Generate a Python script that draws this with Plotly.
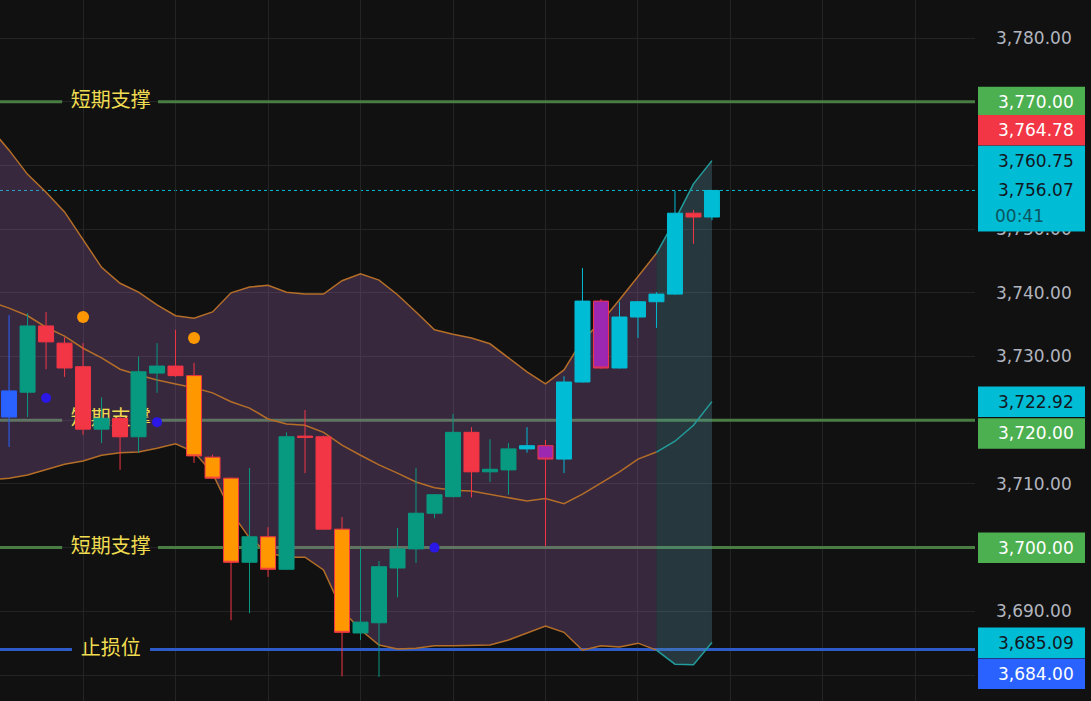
import plotly.graph_objects as go

# ---- candles (index 0 = leftmost bar on screen) ----
opens = [3720.5, 3724.4, 3734.8, 3732.1, 3728.4, 3718.6, 3720.3, 3717.4, 3727.4, 3728.5,
         3727.0, 3714.2, 3710.9, 3697.7, 3701.7, 3696.6, 3717.5, 3717.4, 3702.9, 3686.6,
         3688.2, 3696.8, 3699.8, 3705.4, 3708.0, 3718.1, 3711.9, 3712.2, 3715.5, 3716.0,
         3713.9, 3726.0, 3738.7, 3728.2, 3736.2, 3738.6, 3739.8, 3752.5, 3751.9]
highs = [3736.5, 3736.8, 3737.0, 3733.0, 3732.1, 3723.6, 3720.6, 3730.0, 3732.1, 3734.2,
         3729.0, 3714.6, 3711.0, 3712.5, 3703.2, 3718.1, 3721.6, 3717.6, 3704.8, 3700.0,
         3697.9, 3703.1, 3712.5, 3708.4, 3721.0, 3718.9, 3717.0, 3716.4, 3718.9, 3716.9,
         3726.9, 3743.9, 3739.0, 3738.6, 3738.7, 3740.1, 3756.0, 3753.0, 3756.1]
lows = [3715.8, 3720.5, 3728.0, 3726.8, 3717.7, 3716.4, 3712.2, 3714.9, 3724.3, 3726.8,
        3713.3, 3710.8, 3688.6, 3689.7, 3695.4, 3696.5, 3711.7, 3702.8, 3679.8, 3685.5,
        3679.7, 3692.2, 3697.6, 3704.6, 3707.9, 3707.9, 3710.3, 3708.3, 3714.9, 3700.2,
        3711.7, 3725.9, 3728.1, 3728.1, 3732.9, 3734.5, 3739.7, 3747.7, 3751.4]
closes = [3724.6, 3734.8, 3732.3, 3728.2, 3718.6, 3720.3, 3717.4, 3727.6, 3728.5, 3727.0,
          3714.4, 3710.9, 3697.7, 3701.7, 3696.6, 3717.4, 3717.3, 3702.9, 3686.7, 3688.3,
          3697.0, 3699.8, 3705.4, 3708.3, 3718.1, 3711.9, 3712.3, 3715.5, 3716.0, 3713.9,
          3726.0, 3738.7, 3728.2, 3736.2, 3738.6, 3739.8, 3752.5, 3751.9, 3756.07]
kinds = ["blue", "teal", "red", "red", "red", "teal", "red", "teal", "teal", "red",
         "orange", "orange", "orange", "teal", "orange", "teal", "red", "red", "orange", "teal",
         "teal", "teal", "teal", "teal", "teal", "red", "teal", "teal", "cyan", "purple",
         "cyan", "cyan", "purple", "cyan", "cyan", "cyan", "cyan", "red", "cyan"]

# ---- bollinger bands (starts one bar left of the screen) ----
band_x = list(range(-1, 39))
upper = [3765.8, 3762.4, 3758.6, 3755.8, 3752.7, 3748.3, 3744.0, 3741.5, 3740.1, 3738.1,
         3736.4, 3736.0, 3737.0, 3740.0, 3740.9, 3741.2, 3740.1, 3739.8, 3739.8, 3741.9,
         3743.0, 3742.0, 3739.7, 3737.0, 3734.2, 3733.5, 3732.9, 3732.0, 3729.8, 3727.6,
         3725.7, 3727.9, 3732.6, 3735.4, 3738.9, 3742.6, 3746.2, 3751.4, 3757.1, 3760.75]
middle = [3738.6, 3737.6, 3736.4, 3734.6, 3733.2, 3731.3, 3729.8, 3728.0, 3727.1, 3726.3,
          3725.7, 3725.1, 3724.3, 3722.9, 3721.9, 3720.2, 3719.4, 3719.2, 3718.1, 3716.1,
          3714.5, 3713.0, 3711.7, 3710.3, 3709.4, 3709.0, 3708.9, 3708.4, 3707.9, 3707.3,
          3707.7, 3706.9, 3708.4, 3710.1, 3711.9, 3713.9, 3715.0, 3716.7, 3719.2, 3722.92]
lower = [3710.6, 3710.9, 3711.4, 3712.2, 3713.1, 3713.6, 3714.5, 3714.9, 3715.0, 3715.6,
         3716.3, 3715.0, 3711.7, 3705.6, 3701.5, 3699.2, 3698.5, 3698.5, 3696.5, 3690.2,
         3687.1, 3684.7, 3684.1, 3684.2, 3684.6, 3684.6, 3684.6, 3684.7, 3685.5, 3686.6,
         3687.7, 3686.7, 3683.9, 3684.6, 3684.4, 3685.0, 3683.9, 3681.7, 3681.6, 3685.09]
teal_from = 36  # list position of bar 35, where the band turns teal

# ---- signal dots ----
orange_dot_x = [4, 10]
orange_dot_y = [3736.2, 3732.9]
blue_dot_x = [2, 8, 23]
blue_dot_y = [3723.5, 3719.7, 3700.0]

# ---- horizontal levels ----
support_levels = [3770, 3720, 3700]
support_label = "短期支撑"
stop_level = 3684
stop_label = "止损位"
last_price = 3756.07
countdown = "00:41"

# ---- price axis ----
axis_ticks = list(range(3680, 3790, 10))
hidden_ticks = [3680, 3700, 3720, 3760, 3770]  # sit under a price tag

# ---- price tags on the right axis ----
tag_values = [3770.00, 3764.78, 3760.75, 3756.07, 3722.92, 3720.00, 3700.00, 3685.09, 3684.00]
tag_colors = ["#4caf50", "#f23645", "#00bcd4", "#00bcd4", "#00bcd4", "#4caf50", "#4caf50", "#00bcd4", "#2962ff"]
tag_text = ["#ffffff", "#ffffff", "#131722", "#131722", "#131722", "#ffffff", "#ffffff", "#131722", "#ffffff"]
tag_shift = [0, 5, 0, 0, 0, -13, 0, 0, -24]

CANDLE_STYLE = {
    "teal": ("#089981", "#089981"),
    "red": ("#f23645", "#f23645"),
    "orange": ("#ff9800", "#f23645"),
    "purple": ("#9c27b0", "#f23645"),
    "cyan": ("#00bcd4", "#00bcd4"),
    "blue": ("#2962ff", "#2962ff"),
}
BG = "#111111"
GRID = "#242424"
BAND_ORANGE = "#b46e28"
BAND_TEAL = "#229c9c"
LABEL_X = 5.5
SUPPORT_GAP = (2.87, 8.05)   # where the line breaks for its label
STOP_GAP = (3.40, 7.62)
X_RANGE = [-0.49, 52.22]
Y_RANGE = [3675.92, 3785.97]

fig = go.Figure()

# level lines (under the band fill, over the grid)
def level_line(lvl, gap, color):
    fig.add_trace(go.Scatter(
        x=[X_RANGE[0], gap[0], None, gap[1], X_RANGE[1]],
        y=[lvl, lvl, None, lvl, lvl],
        mode="lines", line=dict(color=color, width=3), hoverinfo="skip"))

for lvl in support_levels:
    level_line(lvl, SUPPORT_GAP, "#4a7d44")
level_line(stop_level, STOP_GAP, "#2d5bc8")

# band fills
orange_part = slice(0, teal_from + 1)
teal_part = slice(teal_from, None)
for part, col, fcol in [(orange_part, BAND_ORANGE, "rgba(149,96,169,0.30)"),
                        (teal_part, BAND_TEAL, "rgba(90,150,165,0.30)")]:
    fig.add_trace(go.Scatter(x=band_x[part], y=upper[part], mode="lines",
                             line=dict(color=col, width=1.5), hoverinfo="skip"))
    fig.add_trace(go.Scatter(x=band_x[part], y=lower[part], mode="lines",
                             line=dict(color=col, width=1.5), fill="tonexty",
                             fillcolor=fcol, hoverinfo="skip"))
    fig.add_trace(go.Scatter(x=band_x[part], y=middle[part], mode="lines",
                             line=dict(color=col, width=1.5), hoverinfo="skip"))

# level labels
fig.add_trace(go.Scatter(
    x=[LABEL_X] * (len(support_levels) + 1),
    y=support_levels + [stop_level],
    text=[support_label] * len(support_levels) + [stop_label],
    mode="text",
    textfont=dict(family="Noto Sans CJK SC", size=20, color="#f0dc50"),
    hoverinfo="skip",
))

# candles on an overlaid subplot so they draw above the fills
for kind, (fill, edge) in CANDLE_STYLE.items():
    sel = [i for i, k in enumerate(kinds) if k == kind]
    style = dict(fillcolor=fill, line=dict(color=edge, width=1))
    fig.add_trace(go.Candlestick(
        x=sel,
        open=[opens[i] for i in sel], high=[highs[i] for i in sel],
        low=[lows[i] for i in sel], close=[closes[i] for i in sel],
        increasing=style, decreasing=style, whiskerwidth=0,
        xaxis="x2", yaxis="y2",
    ))

# signal dots
fig.add_trace(go.Scatter(x=orange_dot_x, y=orange_dot_y, mode="markers", xaxis="x2", yaxis="y2",
                         marker=dict(color="#ff9800", size=12), hoverinfo="skip"))
fig.add_trace(go.Scatter(x=blue_dot_x, y=blue_dot_y, mode="markers", xaxis="x2", yaxis="y2",
                         marker=dict(color="#2b17e6", size=10), hoverinfo="skip"))

# last price dotted line
shapes = [dict(type="line", xref="paper", yref="y", x0=0, x1=1, y0=last_price, y1=last_price,
               line=dict(color="#00bcd4", width=1, dash="dot"), layer="between")]

# price tags
annotations = []
tag_font = "DejaVu Sans"
for v, bg, fg, s in zip(tag_values, tag_colors, tag_text, tag_shift):
    shapes.append(dict(type="rect", xref="paper", xsizemode="pixel", xanchor=1, x0=3, x1=110,
                       yref="y", ysizemode="pixel", yanchor=v, y0=s - 15.5, y1=s + 15,
                       fillcolor=bg, line=dict(width=0), layer="above"))
    annotations.append(dict(xref="paper", x=1, xanchor="right", xshift=101, yref="y", y=v, yshift=s,
                            text=f"{v:,.2f}", showarrow=False,
                            font=dict(family=tag_font, size=17, color=fg)))
shapes.append(dict(type="rect", xref="paper", xsizemode="pixel", xanchor=1, x0=3, x1=110,
                   yref="y", ysizemode="pixel", yanchor=last_price, y0=-41, y1=-12,
                   fillcolor="#00bcd4", line=dict(width=0), layer="above"))
annotations.append(dict(xref="paper", x=1, xanchor="left", xshift=18, yref="y", y=last_price, yshift=-26,
                        text=countdown, showarrow=False,
                        font=dict(family=tag_font, size=17, color="#0b5560")))

fig.update_layout(
    width=1091, height=701,
    margin=dict(l=0, r=116, t=0, b=0),
    paper_bgcolor=BG, plot_bgcolor=BG,
    showlegend=False,
    boxgap=0.19, boxgroupgap=0,
    shapes=shapes, annotations=annotations,
    xaxis=dict(range=X_RANGE, rangeslider=dict(visible=False),
               tickvals=list(range(4, 53, 5)), showticklabels=False,
               showgrid=True, gridcolor=GRID, zeroline=False, showline=False),
    yaxis=dict(side="right", range=Y_RANGE,
               tickvals=axis_ticks,
               ticktext=["" if t in hidden_ticks else f"{t:,.2f}" for t in axis_ticks],
               showgrid=True, gridcolor=GRID, zeroline=False, showline=False,
               ticklabelstandoff=20,
               tickfont=dict(family=tag_font, size=17, color="#b2b5be")),
    xaxis2=dict(overlaying="x", range=X_RANGE, visible=False, rangeslider=dict(visible=False)),
    yaxis2=dict(overlaying="y", range=Y_RANGE, visible=False),
)

fig.write_html("out.html", config={"displayModeBar": False},
               post_script="document.body.style.margin='0';")
